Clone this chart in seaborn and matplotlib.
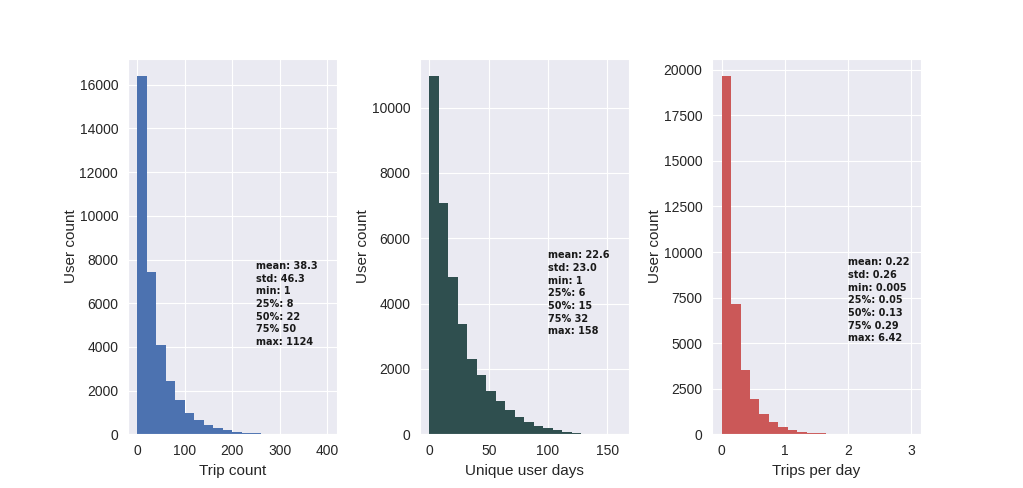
import numpy as np
import pandas as pd
import matplotlib
matplotlib.use("Agg")
import matplotlib.pyplot as plt
import seaborn as sns

# bin counts (20 bins each)
trip_edges = np.linspace(0, 400, 21)
trip_counts = [16380, 7440, 4080, 2450, 1560, 980, 645, 445, 305, 200,
               110, 76, 50, 35, 22, 15, 10, 5, 3, 2]

days_edges = np.linspace(0, 160, 21)
days_counts = [10950, 7070, 4800, 3370, 2290, 1830, 1320, 1020, 735, 530,
               378, 266, 184, 123, 72, 41, 20, 10, 5, 2]

tpd_edges = np.linspace(0, 3, 21)
tpd_counts = [19630, 7130, 3550, 1960, 1140, 680, 405, 220, 128, 80,
              50, 30, 20, 10, 6, 4, 3, 2, 1, 1]

trip_stats = "mean: 38.3\nstd: 46.3\nmin: 1\n25%: 8\n50%: 22\n75% 50\nmax: 1124"
days_stats = "mean: 22.6\nstd: 23.0\nmin: 1\n25%: 6\n50%: 15\n75% 32\nmax: 158"
tpd_stats = "mean: 0.22\nstd: 0.26\nmin: 0.005\n25%: 0.05\n50%: 0.13\n75% 0.29\nmax: 6.42"

sns.set_style("darkgrid")
plt.rcParams["font.family"] = ["Liberation Sans", "DejaVu Sans"]

fig, axes = plt.subplots(1, 3, figsize=(10.23, 4.88), dpi=100)
fig.subplots_adjust(wspace=0.4)

panels = [
    (trip_edges, trip_counts, "#4c72b0", "Trip count", trip_stats, (250, 4000)),
    (days_edges, days_counts, "#2f4f4f", "Unique user days", days_stats, (100, 3000)),
    (tpd_edges, tpd_counts, "#cb5858", "Trips per day", tpd_stats, (2, 5000)),
]

for ax, (edges, counts, color, xlabel, stats, pos) in zip(axes, panels):
    df = pd.DataFrame({"left": edges[:-1], "count": counts})
    sns.histplot(data=df, x="left", weights="count", bins=list(edges), color=color,
                 alpha=1, edgecolor="none", linewidth=0, ax=ax)
    ax.set_xlabel(xlabel, fontsize=11)
    ax.set_ylabel("User count", fontsize=11, labelpad=1)
    ax.tick_params(labelsize=10)
    ax.text(pos[0], pos[1], stats, fontsize=7, fontweight="bold",
            family="DejaVu Sans", color="#1a1a1a", va="bottom", linespacing=1.33)

plt.savefig("out.png", dpi=100)
